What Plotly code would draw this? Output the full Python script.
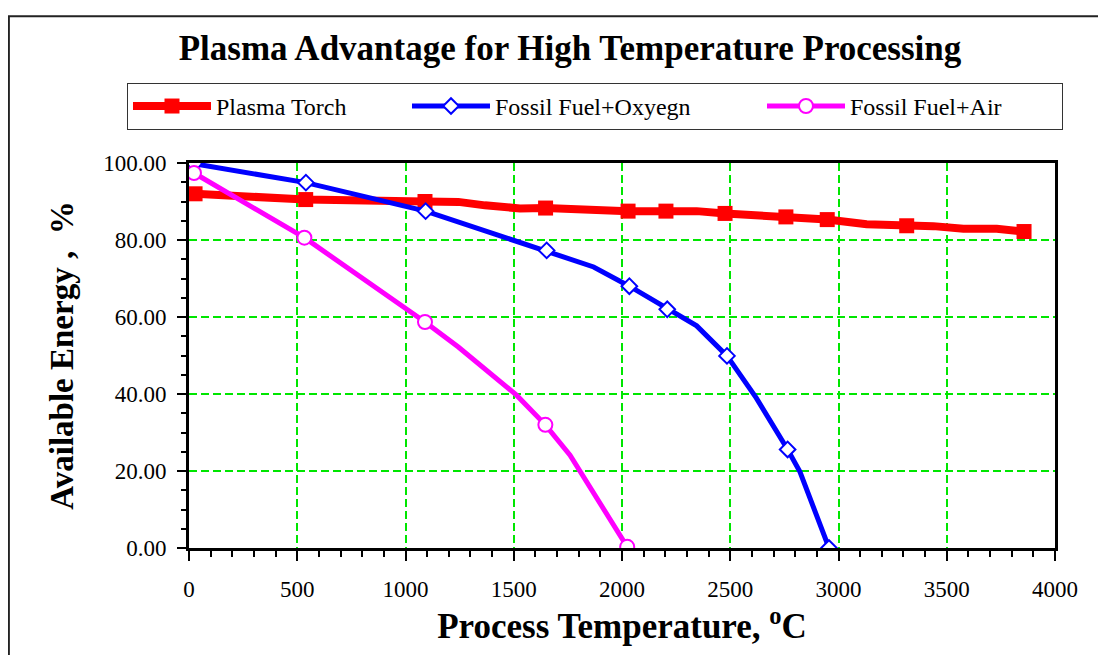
import plotly.graph_objects as go

# ---------------- data ----------------
plasma_x = [28, 539, 1090, 1244, 1367, 1529, 1647, 1752, 1883, 2028, 2203, 2345,
            2476, 2606, 2757, 2853, 2948, 3130, 3223, 3315, 3438, 3577, 3731, 3857]
plasma_y = [92.0, 90.5, 90.0, 89.9, 89.0, 88.2, 88.3, 88.1, 87.4, 87.5, 87.5, 87.5,
            86.9, 86.6, 86.0, 86.0, 85.3, 84.1, 84.1, 83.7, 83.6, 82.9, 82.9, 82.2]
plasma_mx = [28, 539, 1090, 1647, 2028, 2203, 2476, 2757, 2948, 3315, 3857]
plasma_my = [92.0, 90.5, 90.0, 88.3, 87.5, 87.5, 86.9, 86.0, 85.3, 83.7, 82.2]

oxy_x = [25, 540, 1093, 1371, 1652, 1869, 2034, 2209, 2345, 2485, 2620, 2765, 2822, 2956]
oxy_y = [99.8, 94.9, 87.5, 82.3, 77.3, 73.0, 68.0, 62.0, 57.7, 49.9, 39.0, 25.6, 19.8, 0.0]
oxy_mx = [25, 540, 1093, 1652, 2034, 2209, 2485, 2765, 2956]
oxy_my = [99.8, 94.9, 87.5, 77.3, 68.0, 62.0, 49.9, 25.6, 0.0]

air_x = [23, 533, 1090, 1244, 1513, 1646, 1760, 2024]
air_y = [97.4, 80.6, 58.7, 52.2, 39.7, 32.0, 24.1, 0.3]
air_mx = [23, 533, 1090, 1646, 2024]
air_my = [97.4, 80.6, 58.7, 32.0, 0.3]

series_names = ["Plasma Torch", "Fossil Fuel+Oxyegn", "Fossil Fuel+Air"]
x_ticks = [0, 500, 1000, 1500, 2000, 2500, 3000, 3500, 4000]
y_ticks = [0, 20, 40, 60, 80, 100]

FONT = "Liberation Serif, Times New Roman, serif"
W, H = 1098, 647   # page body adds an 8px offset in the browser window

fig = go.Figure()

styles = [
    dict(color="#FF0000", width=8, marker=dict(symbol="square", size=15, color="#FF0000",
                                                line=dict(width=0)), lw=186),
    dict(color="#0000FF", width=5, marker=dict(symbol="diamond", size=12, color="white",
                                                line=dict(width=2, color="#0000FF")), lw=262),
    dict(color="#FF00FF", width=5, marker=dict(symbol="circle", size=14, color="white",
                                                line=dict(width=2, color="#FF00FF")), lw=207),
]
data = [(plasma_x, plasma_y, plasma_mx, plasma_my),
        (oxy_x, oxy_y, oxy_mx, oxy_my),
        (air_x, air_y, air_mx, air_my)]

for name, st, (lx, ly, mx, my) in zip(series_names, styles, data):
    fig.add_trace(go.Scatter(x=lx, y=ly, mode="lines", showlegend=False,
                             line=dict(color=st["color"], width=st["width"]),
                             hoverinfo="skip"))
    fig.add_trace(go.Scatter(x=mx, y=my, mode="markers", showlegend=False,
                             marker=st["marker"], name=name))
    fig.add_trace(go.Scatter(x=[None], y=[None], mode="lines+markers", name=name,
                             line=dict(color=st["color"], width=st["width"]),
                             marker=st["marker"], legendwidth=st["lw"]))

fig.update_layout(
    width=W, height=H,
    paper_bgcolor="white", plot_bgcolor="white",
    margin=dict(l=181, r=51, t=155, b=107),
    font=dict(family=FONT, color="black"),
    title=dict(text="<b>Plasma Advantage for High Temperature Processing</b>",
               x=562 / W, xanchor="center", y=1 - 40 / H, yanchor="middle",
               font=dict(size=35, family=FONT, color="black")),
    legend=dict(orientation="h", x=-0.0716, xanchor="left", y=1.208, yanchor="top",
                bordercolor="#333333", borderwidth=1, bgcolor="white",
                font=dict(size=24, family=FONT), itemwidth=78,
                entrywidthmode="pixels"),
    showlegend=True,
)

grid = dict(showgrid=True, gridcolor="#00e600", gridwidth=1.5, griddash="8px,4px",
            zeroline=False)

fig.update_xaxes(
    range=[0, 4000], tickvals=x_ticks, ticktext=[str(v) for v in x_ticks],
    showline=True, linecolor="black", linewidth=3, mirror=True,
    ticks="outside", ticklen=10, tickwidth=2, tickcolor="black",
    minor=dict(dtick=100, ticks="outside", ticklen=6, tickwidth=2, tickcolor="black",
               showgrid=False),
    tickfont=dict(size=23, family=FONT), ticklabelstandoff=8,
    title=dict(text="<b>Process Temperature, <sup>o</sup>C</b>",
               font=dict(size=35, family=FONT), standoff=4),
    **grid,
)
fig.update_yaxes(
    range=[0, 100], tickvals=y_ticks, tickformat=".2f",
    showline=True, linecolor="black", linewidth=3, mirror=True,
    ticks="outside", ticklen=9, tickwidth=2, tickcolor="black",
    minor=dict(dtick=5, ticks="outside", ticklen=5, tickwidth=2, tickcolor="black",
               showgrid=False),
    tickfont=dict(size=23, family=FONT), ticklabelstandoff=6,
    title=dict(text="<b>Available Energy ,  %</b>", font=dict(size=33, family=FONT),
               standoff=20),
    **grid,
)

# outer chart-area frame
fig.add_shape(type="rect", xref="paper", yref="paper",
              x0=-0.208, x1=1.2, y0=-0.4, y1=1.381,
              line=dict(color="#222222", width=2), fillcolor="rgba(0,0,0,0)", layer="below")

fig.write_html("out.html")
